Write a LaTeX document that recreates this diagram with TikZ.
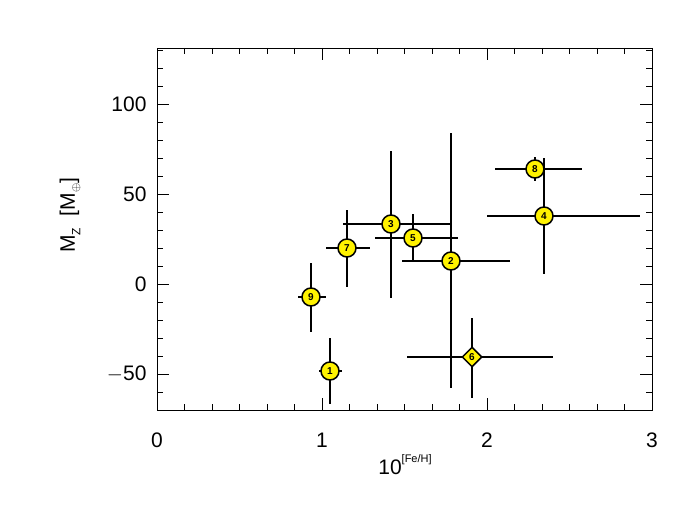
\documentclass[tikz,border=0pt]{standalone}
\usepackage{fontspec}
\setmainfont{Liberation Sans}
\usetikzlibrary{shapes.geometric}
\begin{document}
\begin{tikzpicture}[x=1pt,y=-1pt,
  bar/.style={line width=1.8pt},
  pt/.style={circle,draw,line width=1.5pt,fill=yellow,inner sep=0pt,minimum size=18pt,font=\bfseries\fontsize{10}{12}\selectfont},
  dm/.style={diamond,draw,line width=1.5pt,fill=yellow,inner sep=0pt,minimum size=20pt,font=\bfseries\fontsize{10}{12}\selectfont},
  lab/.style={font=\fontsize{21}{25}\selectfont}]
\useasboundingbox (0,0) rectangle (700,511);
\draw[line width=0.7pt] (157,48) rectangle (652,410);
% x ticks
\foreach \i in {0,...,18}{
  \pgfmathsetmacro\xx{157+\i*27.5}
  \pgfmathtruncatemacro\m{mod(\i,6)}
  \ifnum\m=0
    \draw[line width=0.7pt] (\xx,410)--(\xx,398) (\xx,48)--(\xx,60);
  \else
    \draw[line width=0.7pt] (\xx,410)--(\xx,404) (\xx,48)--(\xx,54);
  \fi}
% y ticks
\foreach \v in {-70,-60,...,130}{
  \pgfmathsetmacro\yy{284-1.8*\v}
  \pgfmathtruncatemacro\m{mod(\v+100,50)}
  \ifnum\m=0
    \draw[line width=0.7pt] (157,\yy)--(169,\yy) (652,\yy)--(640,\yy);
  \else
    \draw[line width=0.7pt] (157,\yy)--(163,\yy) (652,\yy)--(646,\yy);
  \fi}
\foreach \v/\t in {0/0,1/1,2/2,3/3}\node[lab] (xl\v) at (157+165*\v,440) {\t};
\foreach \v/\t in {100/100,50/50,0/0,-50/$-$50}\node[lab,anchor=east] (yl\v) at (150,284-1.8*\v) {\t};
\node[lab] (xt) at (405,465) {10\raisebox{1.1ex}{\fontsize{11}{13}\selectfont[Fe/H]}};
\node[lab,rotate=90] (yt) at (70,215) {M\raisebox{-0.5ex}{\fontsize{12}{14}\selectfont Z}\ \ [M\raisebox{-0.4ex}{\fontsize{13}{15}\selectfont$\oplus$}]};
% error bars
\draw[bar] (319,371)--(342,371) (330,338)--(330,404);
\draw[bar] (298,297)--(326,297) (311,263)--(311,332);
\draw[bar] (326,248)--(370,248) (347,210)--(347,287);
\draw[bar] (343,224)--(450,224) (391,151)--(391,298);
\draw[bar] (375,238)--(458,238) (413,214)--(413,262);
\draw[bar] (402,261)--(510,261) (451,133)--(451,388);
\draw[bar] (495,169)--(582,169) (535,157)--(535,181);
\draw[bar] (487,216)--(640,216) (544,158)--(544,274);
\draw[bar] (407,357)--(553,357) (472,318)--(472,398);
\node[pt] (p1) at (330,371) {1};
\node[pt] (p9) at (311,297) {9};
\node[pt] (p7) at (347,248) {7};
\node[pt] (p3) at (391,224) {3};
\node[pt] (p5) at (413,238) {5};
\node[pt] (p2) at (451,261) {2};
\node[pt] (p8) at (535,169) {8};
\node[pt] (p4) at (544,216) {4};
\node[dm] (p6) at (472,357) {6};
\end{tikzpicture}
\end{document}
